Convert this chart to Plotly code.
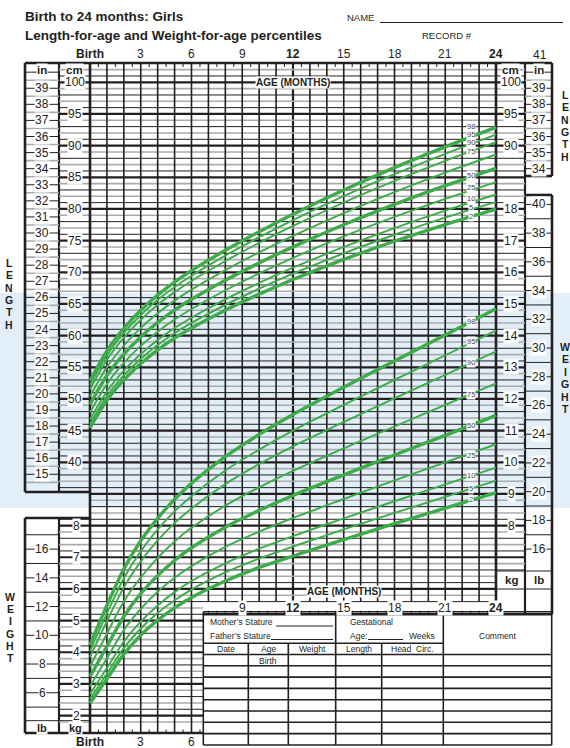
import plotly.graph_objects as go

# ---------------- data ----------------
months = [0, 1, 2, 3, 4, 5, 6, 8, 10, 12, 15, 18, 21, 24]
percentile_names = ["2", "5", "10", "25", "50", "75", "90", "95", "98"]

length_p2 = [45.42, 49.78, 53.00, 55.59, 57.76, 59.60, 61.20, 64.02, 66.55, 68.87, 72.03, 74.90, 77.53, 79.96]
length_p5 = [46.09, 50.47, 53.72, 56.34, 58.53, 60.38, 62.00, 64.86, 67.42, 69.78, 73.00, 75.93, 78.62, 81.11]
length_p10 = [46.76, 51.18, 54.46, 57.10, 59.32, 61.19, 62.83, 65.72, 68.32, 70.72, 74.00, 76.99, 79.74, 82.28]
length_p25 = [47.89, 52.37, 55.70, 58.38, 60.63, 62.54, 64.20, 67.16, 69.82, 72.28, 75.66, 78.75, 81.60, 84.24]
length_p50 = [49.15, 53.69, 57.07, 59.80, 62.09, 64.03, 65.73, 68.75, 71.48, 74.02, 77.51, 80.71, 83.67, 86.42]
length_p75 = [50.41, 55.01, 58.44, 61.22, 63.55, 65.53, 67.26, 70.35, 73.15, 75.75, 79.36, 82.67, 85.74, 88.60]
length_p90 = [51.54, 56.19, 59.68, 62.50, 64.86, 66.87, 68.63, 71.78, 74.65, 77.32, 81.02, 84.43, 87.60, 90.55]
length_p95 = [52.21, 56.90, 60.42, 63.26, 65.65, 67.68, 69.46, 72.64, 75.54, 78.25, 82.02, 85.49, 88.71, 91.73]
length_p98 = [52.87, 57.60, 61.14, 64.01, 66.42, 68.46, 70.26, 73.48, 76.42, 79.17, 82.99, 86.52, 89.80, 92.87]

weight_p2 = [2.39, 3.16, 3.94, 4.54, 5.01, 5.40, 5.73, 6.25, 6.68, 7.04, 7.56, 8.06, 8.55, 9.04]
weight_p5 = [2.53, 3.33, 4.13, 4.75, 5.24, 5.64, 5.98, 6.52, 6.96, 7.34, 7.88, 8.40, 8.91, 9.42]
weight_p10 = [2.68, 3.50, 4.34, 4.97, 5.48, 5.90, 6.25, 6.81, 7.27, 7.67, 8.23, 8.77, 9.30, 9.83]
weight_p25 = [2.93, 3.81, 4.70, 5.37, 5.91, 6.35, 6.72, 7.33, 7.81, 8.24, 8.84, 9.43, 10.00, 10.57]
weight_p50 = [3.23, 4.19, 5.13, 5.85, 6.42, 6.90, 7.30, 7.95, 8.48, 8.95, 9.60, 10.23, 10.85, 11.48]
weight_p75 = [3.55, 4.59, 5.60, 6.36, 6.98, 7.50, 7.93, 8.63, 9.21, 9.73, 10.44, 11.13, 11.81, 12.49]
weight_p90 = [3.85, 4.98, 6.05, 6.87, 7.53, 8.08, 8.54, 9.31, 9.94, 10.50, 11.27, 12.02, 12.76, 13.50]
weight_p95 = [4.04, 5.23, 6.34, 7.19, 7.88, 8.45, 8.93, 9.74, 10.40, 11.00, 11.81, 12.60, 13.38, 14.16]
weight_p98 = [4.23, 5.48, 6.63, 7.52, 8.23, 8.83, 9.34, 10.18, 10.88, 11.51, 12.37, 13.20, 14.02, 14.85]

length_series = [length_p2, length_p5, length_p10, length_p25, length_p50,
                 length_p75, length_p90, length_p95, length_p98]
weight_series = [weight_p2, weight_p5, weight_p10, weight_p25, weight_p50,
                 weight_p75, weight_p90, weight_p95, weight_p98]
bold_percentiles = ["2", "50", "98"]

# where the percentile tags sit
length_tag_cm = [78.81, 80.23, 81.65, 83.42, 85.36, 89.00, 90.42, 91.76, 93.10]
weight_tag_kg = [8.83, 9.17, 9.57, 10.22, 11.17, 12.15, 13.14, 13.81, 14.44]

age_tick_months = [0, 3, 6, 9, 12, 15, 18, 21, 24]
age_tick_labels = ["Birth", "3", "6", "9", "12", "15", "18", "21", "24"]
age_bold = ["Birth", "12", "24"]
cm_ticks_left = [40, 45, 50, 55, 60, 65, 70, 75, 80, 85, 90, 95, 100]
cm_ticks_right = [90, 95, 100]
in_ticks_left = list(range(15, 40))
in_ticks_right = [34, 35, 36, 37, 38, 39]
kg_ticks_left = [2, 3, 4, 5, 6, 7, 8]
kg_ticks_right = [8, 9, 10, 11, 12, 13, 14, 15, 16, 17, 18]
lb_ticks_left = [6, 8, 10, 12, 14, 16]
lb_ticks_right = [16, 18, 20, 22, 24, 26, 28, 30, 32, 34, 36, 38, 40]

# ---------------- geometry helpers ----------------
W, H = 570, 748
X0, PXM = 90.0, 406.0 / 24.0
Y100, PXCM = 82.3, 6.333
LB = 0.45359237
IN = 2.54


def mx(px):
    return (px - X0) / PXM


def cy(py):
    return 100.0 - (py - Y100) / PXCM


def pyc(c):
    return Y100 + (100.0 - c) * PXCM


def kg_to_cm(kg):
    return 5.0 * kg - 10.0


def PX(px):
    return px / W


def PY(py):
    return 1 - py / H


FONT = "Liberation Sans, Arial, Helvetica, sans-serif"
INK = "#231f20"
GRAY = "#a9abae"
GREEN = "#3dab4a"

fig = go.Figure()

# ---------------- grid ----------------
segs = {"thick": [], "black": [], "gray": [], "vert": [], "border": [], "thin": []}


def hpx(key, pxl, pxr, py):
    segs[key].append((mx(pxl), cy(py), mx(pxr), cy(py)))


def vpx(key, px, py1, py2):
    segs[key].append((mx(px), cy(py1), mx(px), cy(py2)))


for c in range(-1, 103):
    py = pyc(c)
    if c % 5 == 0:
        key = "thick"
    elif c % 5 in (1, 3):
        key = "black"
    else:
        key = "gray"
    xl = 59 if (63 <= py <= 492 or 518 <= py <= 733) else 90
    if py <= 571:
        xr = 525
    elif c >= 18:
        xr = 496
    else:
        xr = 203.3
    hpx(key, xl, xr, py)

for m in range(25):
    px = X0 + m * PXM
    if m <= 6:
        bottom = 733
    elif m == 24:
        bottom = pyc(16)
    else:
        bottom = pyc(18)
    key = "border" if m in (0, 24) else ("thick" if m == 12 else "vert")
    vpx(key, px, 63, bottom)

# inch columns
for h in range(29, 81):
    c = h * IN / 2.0
    py = pyc(c)
    key = "black" if h % 2 == 0 else "gray"
    if 64 < py < 491:
        hpx(key, 25, 59, py)
    if 64 < py < 175:
        hpx(key, 525, 552, py)
# pound columns
for lb in range(4, 18):
    py = pyc(kg_to_cm(lb * LB))
    if 519 < py < 720:
        hpx("black", 25, 59, py)
for lb in range(16, 41):
    py = pyc(kg_to_cm(lb * LB))
    if 196 < py < 570:
        hpx("black", 525, 552, py)

# borders
hpx("border", 25, 552, 63)
vpx("border", 25, 63, 492)
vpx("border", 25, 518, 733)
vpx("thick", 59, 63, 492)
vpx("thick", 59, 518, 733)
hpx("border", 25, 90, 492)
hpx("border", 25, 90, 518)
hpx("border", 25, 203.3, 733)
hpx("black", 25, 90, 720.7)
vpx("thick", 525, 63, pyc(16))
vpx("border", 552, 63, 176)
vpx("border", 552, 195, pyc(16))
hpx("border", 525, 552, 176)
hpx("border", 525, 552, 195)
hpx("border", 203.3, 552, pyc(16))
hpx("black", 496, 552, 571)
hpx("black", 496, 552, 589)

# small half-month ticks
for m in range(24):
    px = X0 + (m + 0.5) * PXM
    vpx("thin", px, 63, 67)
for m in range(7):
    px = X0 + (m + 0.5) * PXM
    vpx("thin", px, 729.5, 733)
for k in range(14, 48):
    px = X0 + k * 0.5 * PXM
    if k % 6 != 0:
        vpx("thin", px, pyc(16) - 3.5, pyc(16))

styles = {
    "thick": (INK, 2.2),
    "black": (INK, 1.0),
    "gray": (GRAY, 1.6),
    "vert": (INK, 1.6),
    "border": (INK, 2.6),
    "thin": (INK, 1.0),
}
for key, lst in segs.items():
    xs, ys = [], []
    for (x1, y1, x2, y2) in lst:
        xs += [x1, x2, None]
        ys += [y1, y2, None]
    col, wd = styles[key]
    fig.add_trace(go.Scatter(x=xs, y=ys, mode="lines", line=dict(color=col, width=wd),
                             hoverinfo="skip", showlegend=False))

# ---------------- percentile curves ----------------
for name, vals in zip(percentile_names, length_series):
    fig.add_trace(go.Scatter(x=months, y=vals, mode="lines", yaxis="y",
                             line=dict(color=GREEN, width=3.4 if name in bold_percentiles else 1.9,
                                       shape="spline", smoothing=0.8),
                             name="Length P" + name, showlegend=False, hoverinfo="skip"))
for name, vals in zip(percentile_names, weight_series):
    fig.add_trace(go.Scatter(x=months, y=vals, mode="lines", yaxis="y2",
                             line=dict(color=GREEN, width=3.4 if name in bold_percentiles else 1.9,
                                       shape="spline", smoothing=0.8),
                             name="Weight P" + name, showlegend=False, hoverinfo="skip"))

# ---------------- annotations ----------------
ann = []


def txt(x, y, s, size=12, bold=False, bg=None, xanchor="center", yanchor="middle",
        xref="x", yref="y", color=INK, pad=1):
    ann.append(dict(x=x, y=y, xref=xref, yref=yref, text=("<b>%s</b>" % s) if bold else s,
                    showarrow=False, xanchor=xanchor, yanchor=yanchor,
                    font=dict(family=FONT, size=size, color=color),
                    bgcolor=bg, borderpad=pad))


def tpx(px, py, s, **kw):
    txt(mx(px), cy(py), s, **kw)


def tpaper(px, py, s, **kw):
    txt(PX(px), PY(py), s, xref="paper", yref="paper", **kw)


# title block
tpaper(23, 16.5, "Birth to 24 months: Girls", size=13.5, bold=True, xanchor="left")
tpaper(23, 36, "Length-for-age and Weight-for-age percentiles", size=13.5, bold=True, xanchor="left")
tpaper(345, 18, "NAME", size=9.5, xanchor="left")
tpaper(420, 36, "RECORD #", size=9.5, xanchor="left")

# age labels top / bottom
for m, lab in zip(age_tick_months, age_tick_labels):
    txt(m, cy(54), lab, size=12, bold=lab in age_bold)
for m, lab in zip(age_tick_months[:3], age_tick_labels[:3]):
    txt(m, cy(742), lab, size=12, bold=lab in age_bold)
bar_mid = (pyc(16) + pyc(18)) / 2
for m, lab in zip(age_tick_months[3:], age_tick_labels[3:]):
    txt(m, cy(bar_mid), lab, size=12, bold=lab in age_bold, bg="white", pad=0)
tpx(540, 55, "41", size=12)
txt(12, 100, "AGE (MONTHS)", size=10, bold=True, bg="white", pad=0)
txt(15, cy(591.5), "AGE (MONTHS)", size=10, bold=True, bg="white", pad=0)

# scale labels
SS = 12
for c in cm_ticks_left:
    txt(mx(75), c, str(c), size=SS, bg="white", pad=0)
for c in cm_ticks_right:
    txt(mx(511), c, str(c), size=SS, bg="white", pad=0)
for i in in_ticks_left:
    txt(mx(42), i * IN, str(i), size=SS, bg="white", pad=0)
for i in in_ticks_right:
    txt(mx(538.5), i * IN, str(i), size=SS, bg="white", pad=0)
for k in kg_ticks_left:
    txt(mx(76), kg_to_cm(k), str(k), size=SS, bg="white", pad=0)
for k in kg_ticks_right:
    txt(mx(511), kg_to_cm(k), str(k), size=SS, bg="white", pad=0)
for lb in lb_ticks_left:
    txt(mx(42), kg_to_cm(lb * LB), str(lb), size=SS, bg="white", pad=0)
for lb in lb_ticks_right:
    txt(mx(538.5), kg_to_cm(lb * LB), str(lb), size=SS, bg="white", pad=0)

tpx(42, 70, "in", size=11.5, bold=True, bg="white", pad=0)
tpx(74, 70, "cm", size=11.5, bold=True, bg="white", pad=0)
tpx(510, 70, "cm", size=11.5, bold=True, bg="white", pad=0)
tpx(538.5, 70, "in", size=11.5, bold=True, bg="white", pad=0)
tpx(42, 728, "lb", size=11, bold=True, bg="white", pad=0)
tpx(75, 728, "kg", size=11, bold=True, bg="white", pad=0)
tpx(511, 580, "kg", size=11.5, bold=True, bg="white", pad=0)
tpx(539, 580, "lb", size=11.5, bold=True, bg="white", pad=0)

# side words
for i, ch in enumerate("LENGTH"):
    tpx(9, 263 + i * 12.3, ch, size=10.5, bold=True)
    tpx(565, 95 + i * 12.3, ch, size=10.5, bold=True)
for i, ch in enumerate("WEIGHT"):
    tpx(10, 597 + i * 12.2, ch, size=10.5, bold=True)
    tpx(565, 347 + i * 12.4, ch, size=10.5, bold=True)

# percentile tags
for name, yv in zip(percentile_names, length_tag_cm):
    txt(mx(470.5), yv, name, size=7.5, bg="white", pad=0, color="#444")
for name, yv in zip(percentile_names, weight_tag_kg):
    txt(mx(470.5), yv, name, size=7.5, bg="white", pad=0, color="#444", yref="y2")

# ---------------- record table (paper coords) ----------------
shapes = []


def pline(x1, y1, x2, y2, w=1.6):
    shapes.append(dict(type="line", xref="paper", yref="paper", x0=PX(x1), y0=PY(y1),
                       x1=PX(x2), y1=PY(y2), line=dict(color=INK, width=w)))


# light blue band
shapes.append(dict(type="rect", xref="paper", yref="paper", x0=0, y0=PY(508), x1=1, y1=PY(293),
                   fillcolor="#e3eff8", line=dict(width=0), layer="below"))

TL, TR, TT, TB = 203.3, 551.7, 611.7, 745
pline(TL, TT, TR, TT)
pline(TL, TB, TR, TB)
pline(TL, TT, TL, TB)
pline(TR, TT, TR, TB)
pline(443.3, TT, 443.3, TB)
pline(335.7, TT, 335.7, TB)
pline(TL, 643.3, 443.3, 643.3)
for xv in (248.3, 288.3, 381.7):
    pline(xv, 643.3, xv, TB)
for k in range(8):
    yv = 654.5 + k * 11.3
    pline(TL, yv, TR, yv)
pline(276, 626, 333, 626, 1)
pline(271, 639.5, 333, 639.5, 1)
pline(368, 639.5, 403, 639.5, 1)
pline(380, 22.5, 563, 22.5, 1)

TS = 8.5
tpaper(208, 622, "Mother\u2019s Stature", size=TS, xanchor="left")
tpaper(208, 635.5, "Father\u2019s Stature", size=TS, xanchor="left")
tpaper(348, 622, "Gestational", size=TS, xanchor="left")
tpaper(348, 636, "Age:", size=TS, xanchor="left")
tpaper(407, 636, "Weeks", size=TS, xanchor="left")
tpaper(497, 635.5, "Comment", size=TS)
for cxp, lab in ((225.8, "Date"), (268.3, "Age"), (312, "Weight"), (358.7, "Length"), (412.5, "Head  Circ.")):
    tpaper(cxp, 649, lab, size=TS)
tpaper(268.3, 660.5, "Birth", size=TS)

fig.update_layout(
    width=W, height=H, autosize=False,
    margin=dict(l=0, r=0, t=0, b=0),
    paper_bgcolor="white", plot_bgcolor="white",
    xaxis=dict(range=[mx(0), mx(W)], domain=[0, 1], visible=False, fixedrange=True),
    yaxis=dict(range=[cy(H), cy(0)], domain=[0, 1], visible=False, fixedrange=True),
    yaxis2=dict(range=[(cy(H) + 10) / 5, (cy(0) + 10) / 5], overlaying="y", visible=False,
                fixedrange=True),
    annotations=ann, shapes=shapes, showlegend=False,
)

fig.write_html(
    "out.html",
    config={"displayModeBar": False},
    post_script="document.body.style.margin='0';document.body.style.overflow='hidden';",
)
